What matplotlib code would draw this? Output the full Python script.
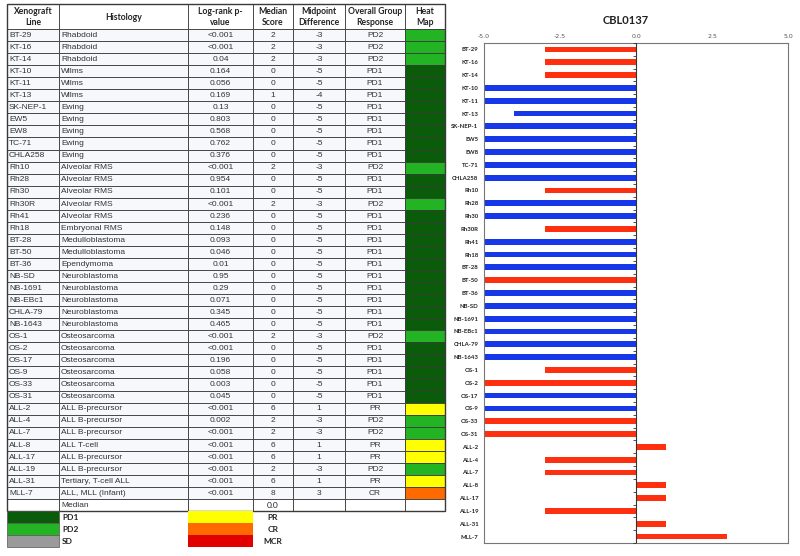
import numpy as np
import matplotlib.pyplot as plt
from matplotlib.patches import Rectangle

# --- data -------------------------------------------------------------------
lines = ['BT-29', 'KT-16', 'KT-14', 'KT-10', 'KT-11', 'KT-13', 'SK-NEP-1', 'EW5',
         'EW8', 'TC-71', 'CHLA258', 'Rh10', 'Rh28', 'Rh30', 'Rh30R', 'Rh41', 'Rh18',
         'BT-28', 'BT-50', 'BT-36', 'NB-SD', 'NB-1691', 'NB-EBc1', 'CHLA-79',
         'NB-1643', 'OS-1', 'OS-2', 'OS-17', 'OS-9', 'OS-33', 'OS-31', 'ALL-2',
         'ALL-4', 'ALL-7', 'ALL-8', 'ALL-17', 'ALL-19', 'ALL-31', 'MLL-7']
histology = ['Rhabdoid', 'Rhabdoid', 'Rhabdoid', 'Wilms', 'Wilms', 'Wilms', 'Ewing',
             'Ewing', 'Ewing', 'Ewing', 'Ewing', 'Alveolar RMS', 'Alveolar RMS',
             'Alveolar RMS', 'Alveolar RMS', 'Alveolar RMS', 'Embryonal RMS',
             'Medulloblastoma', 'Medulloblastoma', 'Ependymoma', 'Neuroblastoma',
             'Neuroblastoma', 'Neuroblastoma', 'Neuroblastoma', 'Neuroblastoma',
             'Osteosarcoma', 'Osteosarcoma', 'Osteosarcoma', 'Osteosarcoma',
             'Osteosarcoma', 'Osteosarcoma', 'ALL B-precursor', 'ALL B-precursor',
             'ALL B-precursor', 'ALL T-cell', 'ALL B-precursor', 'ALL B-precursor',
             'Tertiary, T-cell ALL', 'ALL, MLL (Infant)']
pvalue = ['<0.001', '<0.001', '0.04', '0.164', '0.056', '0.169', '0.13', '0.803',
          '0.568', '0.762', '0.376', '<0.001', '0.954', '0.101', '<0.001', '0.236',
          '0.148', '0.093', '0.046', '0.01', '0.95', '0.29', '0.071', '0.345',
          '0.465', '<0.001', '<0.001', '0.196', '0.058', '0.003', '0.045', '<0.001',
          '0.002', '<0.001', '<0.001', '<0.001', '<0.001', '<0.001', '<0.001']
median_score = [2, 2, 2, 0, 0, 1, 0, 0, 0, 0, 0, 2, 0, 0, 2, 0, 0, 0, 0, 0, 0, 0, 0,
                0, 0, 2, 0, 0, 0, 0, 0, 6, 2, 2, 6, 6, 2, 6, 8]
midpoint_diff = [-3, -3, -3, -5, -5, -4, -5, -5, -5, -5, -5, -3, -5, -5, -3, -5, -5,
                 -5, -5, -5, -5, -5, -5, -5, -5, -3, -5, -5, -5, -5, -5, 1, -3, -3,
                 1, 1, -3, 1, 3]
response = ['PD2', 'PD2', 'PD2', 'PD1', 'PD1', 'PD1', 'PD1', 'PD1', 'PD1', 'PD1',
            'PD1', 'PD2', 'PD1', 'PD1', 'PD2', 'PD1', 'PD1', 'PD1', 'PD1', 'PD1',
            'PD1', 'PD1', 'PD1', 'PD1', 'PD1', 'PD2', 'PD1', 'PD1', 'PD1', 'PD1',
            'PD1', 'PR', 'PD2', 'PD2', 'PR', 'PR', 'PD2', 'PR', 'CR']
# bar colour in the chart: True = red (significant), False = blue
significant = [True, True, True, False, False, False, False, False, False, False,
               False, True, False, False, True, False, False, False, True, False,
               False, False, False, False, False, True, True, False, False, True,
               True, True, True, True, True, True, True, True, True]
median_value = '0.0'

headers = ['Xenograft\nLine', 'Histology', 'Log-rank p-\nvalue', 'Median\nScore',
           'Midpoint\nDifference', 'Overall Group\nResponse', 'Heat\nMap']
legend_left = ['PD1', 'PD2', 'SD']
legend_right = ['PR', 'CR', 'MCR']

resp_colors = {'PD1': '#0A5C0A', 'PD2': '#22B422', 'SD': '#9A9A9A',
               'PR': '#FFFF00', 'CR': '#FF6A00', 'MCR': '#E00000'}

fig = plt.figure(figsize=(8, 5.56), dpi=100)

# --- table (drawn in pixel coordinates) -------------------------------------
ax_t = fig.add_axes([0, 0, 1, 1])
ax_t.set_xlim(0, 800)
ax_t.set_ylim(556, 0)
ax_t.axis('off')

cols = [7, 59, 188, 253, 293, 345, 405, 445]
head_top, head_bot = 4, 29
rh = 12.05
edge = '#3a3a3a'
body_font = 'Liberation Sans'
head_font = 'Lato'

for j in range(7):
    x0, x1 = cols[j], cols[j + 1]
    ax_t.add_patch(Rectangle((x0, head_top), x1 - x0, head_bot - head_top,
                             facecolor='white', edgecolor=edge, lw=0.6))
    ax_t.text((x0 + x1) / 2, (head_top + head_bot) / 2 + 0.5, headers[j],
              ha='center', va='center', fontsize=6.2, fontweight='bold',
              family=head_font, linespacing=1.15, color='#222222')

for i in range(len(lines)):
    y0 = head_bot + i * rh
    yc = y0 + rh / 2 + 0.3
    row = [lines[i], histology[i], pvalue[i], str(median_score[i]),
           str(midpoint_diff[i]), response[i]]
    for j in range(7):
        x0, x1 = cols[j], cols[j + 1]
        fc = resp_colors[response[i]] if j == 6 else '#F6F8FC'
        ax_t.add_patch(Rectangle((x0, y0), x1 - x0, rh, facecolor=fc,
                                 edgecolor=edge, lw=0.6))
        if j < 2:
            ax_t.text(x0 + 2, yc, row[j], ha='left', va='center', fontsize=6,
                      family=body_font, color='#333333')
        elif j < 6:
            ax_t.text((x0 + x1) / 2, yc, row[j], ha='center', va='center',
                      fontsize=6, family=body_font, color='#333333')

# median row
y0 = head_bot + len(lines) * rh
for j in range(7):
    x0, x1 = cols[j], cols[j + 1]
    ax_t.add_patch(Rectangle((x0, y0), x1 - x0, rh, facecolor='white',
                             edgecolor=edge, lw=0.6))
ax_t.text(cols[1] + 2, y0 + rh / 2 + 0.3, 'Median', ha='left', va='center',
          fontsize=6, family=body_font, color='#333333')
ax_t.text((cols[3] + cols[4]) / 2, y0 + rh / 2 + 0.3, median_value, ha='center',
          va='center', fontsize=6, family=head_font, color='#222222')

# outer frame
ax_t.add_patch(Rectangle((cols[0], head_top), cols[-1] - cols[0],
                         y0 + rh - head_top, facecolor='none', edgecolor=edge, lw=1.0))

# legend swatches
ly = y0 + rh
for k in range(3):
    yy = ly + k * rh
    ax_t.add_patch(Rectangle((cols[0], yy), cols[1] - cols[0], rh,
                             facecolor=resp_colors[legend_left[k]],
                             edgecolor='#555555', lw=0.5))
    ax_t.text(cols[1] + 3, yy + rh / 2 + 0.3, legend_left[k], ha='left', va='center',
              fontsize=6, fontweight='bold', family=head_font, color='#222222')
    ax_t.add_patch(Rectangle((cols[2], yy), cols[3] - cols[2], rh,
                             facecolor=resp_colors[legend_right[k]],
                             edgecolor='none'))
    ax_t.text(273, yy + rh / 2 + 0.3, legend_right[k], ha='center', va='center',
              fontsize=6, fontweight='bold', family=head_font, color='#222222')

# --- bar chart --------------------------------------------------------------
ax = fig.add_axes([484 / 800, 1 - 543 / 556, 304 / 800, 500 / 556])
ypos = np.arange(len(lines))
bar_cols = ['#FF3010' if s else '#1638E8' for s in significant]
ax.barh(ypos, midpoint_diff, height=0.45, color=bar_cols, zorder=2)
ax.axvline(0, color='#333333', lw=0.8, zorder=3)
ax.plot(np.zeros(len(lines) + 1), np.arange(len(lines) + 1) - 0.5, ls='none',
        marker=0, markersize=2, color='#333333', mew=0.6, zorder=3)

ax.set_xlim(-5, 5)
ax.set_ylim(len(lines) - 0.5, -0.5)
ax.set_xticks([-5, -2.5, 0, 2.5, 5])
ax.set_xticklabels(['-5.0', '-2.5', '0.0', '2.5', '5.0'])
ax.xaxis.tick_top()
ax.tick_params(axis='x', length=0, pad=3, labelsize=4.5, labelcolor='#555555')
ax.set_yticks(ypos)
ax.set_yticklabels(lines, fontsize=4.3, fontweight='bold', family=head_font,
                   color='#222222')
ax.tick_params(axis='y', length=0, pad=4)
for s in ax.spines.values():
    s.set_color('#777777')
    s.set_linewidth(0.8)

fig.text(626 / 800, 1 - 20 / 556, 'CBL0137', ha='center', va='center',
         fontsize=8, fontweight='bold', family=head_font, color='#222222')

fig.savefig('out.png', dpi=100)
